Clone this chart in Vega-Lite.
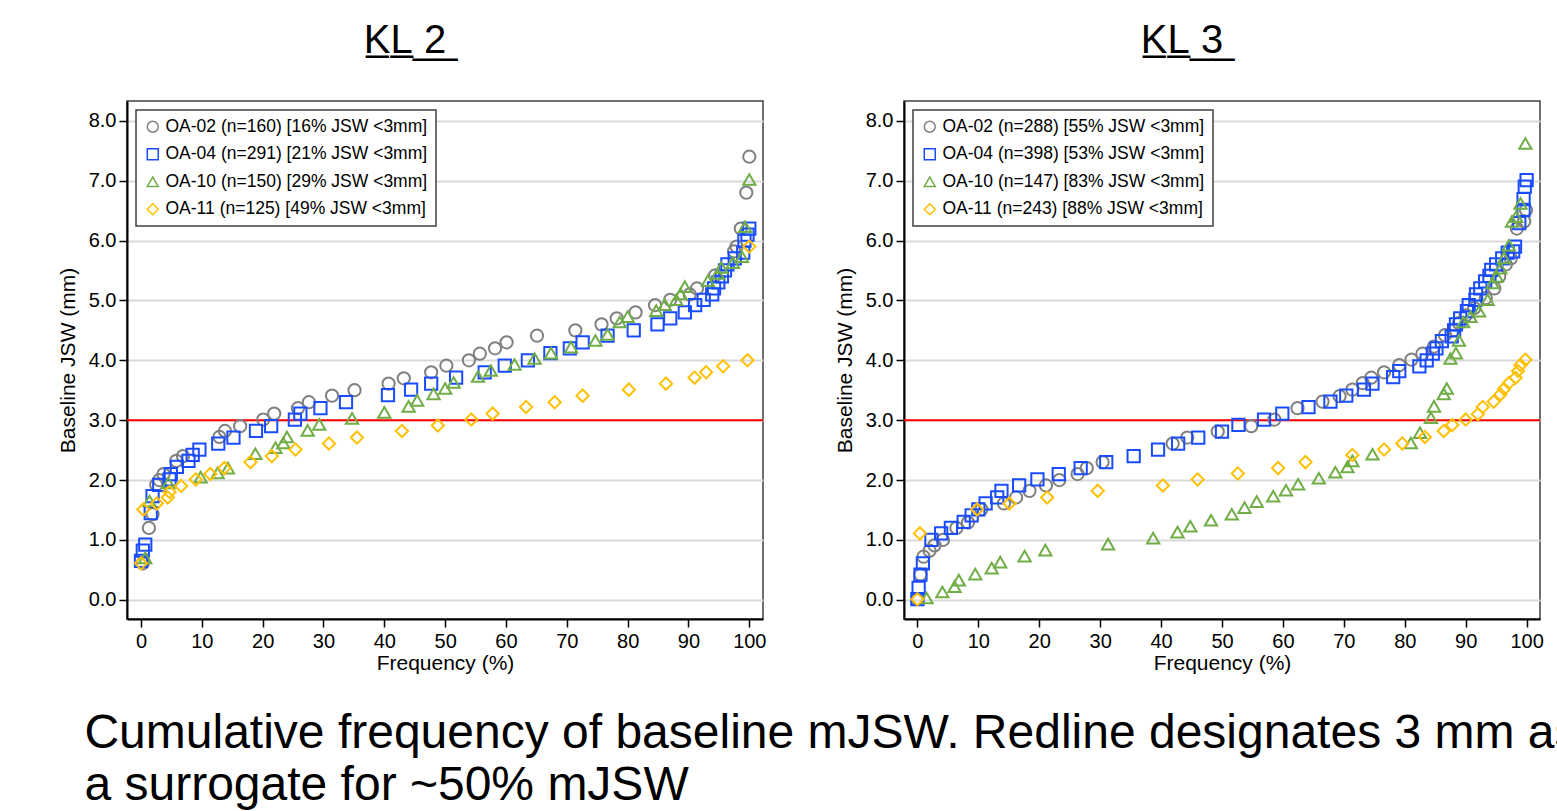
{
  "$schema": "https://vega.github.io/schema/vega-lite/v6.json",
  "background": "white",
  "padding": {"left": 56, "top": 20, "right": 5, "bottom": 5},
  "title": {
    "text": ["Cumulative frequency of baseline mJSW. Redline designates 3 mm as", "a surrogate for ~50% mJSW"],
    "orient": "bottom",
    "anchor": "start",
    "frame": "bounds",
    "font": "Liberation Sans",
    "fontSize": 48,
    "fontWeight": "normal",
    "lineHeight": 52,
    "color": "#000000",
    "offset": 36,
    "dx": 28
  },
  "datasets": {
    "kl2": [
      {"s":"OA-02","x":0.3,"y":0.61},{"s":"OA-02","x":1.3,"y":1.2},{"s":"OA-02","x":1.9,"y":1.43},{"s":"OA-02","x":2.5,"y":1.92},{"s":"OA-02","x":3.0,"y":2.0},{"s":"OA-02","x":3.7,"y":2.1},{"s":"OA-02","x":5.8,"y":2.32},{"s":"OA-02","x":6.9,"y":2.4},{"s":"OA-02","x":12.9,"y":2.72},{"s":"OA-02","x":13.8,"y":2.82},{"s":"OA-02","x":16.3,"y":2.9},{"s":"OA-02","x":20.1,"y":3.01},{"s":"OA-02","x":21.9,"y":3.11},{"s":"OA-02","x":25.8,"y":3.2},{"s":"OA-02","x":27.6,"y":3.3},{"s":"OA-02","x":31.4,"y":3.41},{"s":"OA-02","x":35.1,"y":3.5},{"s":"OA-02","x":40.7,"y":3.61},{"s":"OA-02","x":43.2,"y":3.7},{"s":"OA-02","x":47.7,"y":3.8},{"s":"OA-02","x":50.2,"y":3.91},{"s":"OA-02","x":53.9,"y":4.0},{"s":"OA-02","x":55.7,"y":4.11},{"s":"OA-02","x":58.2,"y":4.2},{"s":"OA-02","x":60.1,"y":4.3},{"s":"OA-02","x":65.1,"y":4.41},{"s":"OA-02","x":71.4,"y":4.5},{"s":"OA-02","x":75.7,"y":4.6},{"s":"OA-02","x":78.2,"y":4.7},{"s":"OA-02","x":81.3,"y":4.8},{"s":"OA-02","x":84.5,"y":4.92},{"s":"OA-02","x":87.0,"y":5.01},{"s":"OA-02","x":90.2,"y":5.1},{"s":"OA-02","x":91.4,"y":5.2},{"s":"OA-02","x":94.4,"y":5.42},{"s":"OA-02","x":97.5,"y":5.82},{"s":"OA-02","x":97.9,"y":5.9},{"s":"OA-02","x":98.6,"y":6.2},{"s":"OA-02","x":99.5,"y":6.8},{"s":"OA-02","x":100,"y":7.4},
      {"s":"OA-04","x":0,"y":0.65},{"s":"OA-04","x":0.3,"y":0.82},{"s":"OA-04","x":0.7,"y":0.92},{"s":"OA-04","x":1.6,"y":1.45},{"s":"OA-04","x":1.9,"y":1.73},{"s":"OA-04","x":3.0,"y":1.92},{"s":"OA-04","x":4.7,"y":2.01},{"s":"OA-04","x":4.9,"y":2.1},{"s":"OA-04","x":5.9,"y":2.22},{"s":"OA-04","x":7.8,"y":2.32},{"s":"OA-04","x":8.5,"y":2.42},{"s":"OA-04","x":9.6,"y":2.51},{"s":"OA-04","x":12.7,"y":2.61},{"s":"OA-04","x":15.2,"y":2.71},{"s":"OA-04","x":18.9,"y":2.82},{"s":"OA-04","x":21.4,"y":2.9},{"s":"OA-04","x":25.3,"y":3.01},{"s":"OA-04","x":26.2,"y":3.11},{"s":"OA-04","x":29.5,"y":3.2},{"s":"OA-04","x":33.7,"y":3.3},{"s":"OA-04","x":40.6,"y":3.42},{"s":"OA-04","x":44.4,"y":3.51},{"s":"OA-04","x":47.7,"y":3.61},{"s":"OA-04","x":51.8,"y":3.71},{"s":"OA-04","x":56.5,"y":3.8},{"s":"OA-04","x":59.8,"y":3.91},{"s":"OA-04","x":63.6,"y":4.0},{"s":"OA-04","x":67.3,"y":4.12},{"s":"OA-04","x":70.5,"y":4.2},{"s":"OA-04","x":72.6,"y":4.3},{"s":"OA-04","x":76.7,"y":4.41},{"s":"OA-04","x":81.0,"y":4.5},{"s":"OA-04","x":84.9,"y":4.6},{"s":"OA-04","x":87.0,"y":4.7},{"s":"OA-04","x":89.4,"y":4.8},{"s":"OA-04","x":91.1,"y":4.92},{"s":"OA-04","x":92.5,"y":5.01},{"s":"OA-04","x":93.9,"y":5.1},{"s":"OA-04","x":94.2,"y":5.2},{"s":"OA-04","x":94.9,"y":5.3},{"s":"OA-04","x":95.5,"y":5.4},{"s":"OA-04","x":96.0,"y":5.5},{"s":"OA-04","x":96.4,"y":5.6},{"s":"OA-04","x":97.6,"y":5.7},{"s":"OA-04","x":99.0,"y":5.8},{"s":"OA-04","x":99.2,"y":6.0},{"s":"OA-04","x":99.7,"y":6.1},{"s":"OA-04","x":100,"y":6.2},
      {"s":"OA-10","x":0.7,"y":0.7},{"s":"OA-10","x":1.4,"y":1.65},{"s":"OA-10","x":4.5,"y":1.95},{"s":"OA-10","x":9.8,"y":2.05},{"s":"OA-10","x":12.6,"y":2.12},{"s":"OA-10","x":14.3,"y":2.2},{"s":"OA-10","x":18.8,"y":2.44},{"s":"OA-10","x":22.1,"y":2.54},{"s":"OA-10","x":23.4,"y":2.62},{"s":"OA-10","x":24.0,"y":2.72},{"s":"OA-10","x":27.4,"y":2.83},{"s":"OA-10","x":29.3,"y":2.93},{"s":"OA-10","x":34.7,"y":3.03},{"s":"OA-10","x":40.0,"y":3.13},{"s":"OA-10","x":44.0,"y":3.23},{"s":"OA-10","x":45.4,"y":3.33},{"s":"OA-10","x":48.1,"y":3.44},{"s":"OA-10","x":50.0,"y":3.53},{"s":"OA-10","x":51.4,"y":3.63},{"s":"OA-10","x":55.4,"y":3.73},{"s":"OA-10","x":57.5,"y":3.83},{"s":"OA-10","x":61.4,"y":3.93},{"s":"OA-10","x":64.7,"y":4.03},{"s":"OA-10","x":67.4,"y":4.12},{"s":"OA-10","x":70.7,"y":4.22},{"s":"OA-10","x":74.7,"y":4.33},{"s":"OA-10","x":76.7,"y":4.43},{"s":"OA-10","x":78.7,"y":4.64},{"s":"OA-10","x":80.0,"y":4.73},{"s":"OA-10","x":84.7,"y":4.83},{"s":"OA-10","x":86.1,"y":4.93},{"s":"OA-10","x":88.0,"y":5.01},{"s":"OA-10","x":88.7,"y":5.11},{"s":"OA-10","x":89.4,"y":5.23},{"s":"OA-10","x":93.2,"y":5.33},{"s":"OA-10","x":94.8,"y":5.45},{"s":"OA-10","x":95.4,"y":5.55},{"s":"OA-10","x":97.3,"y":5.63},{"s":"OA-10","x":98.8,"y":5.73},{"s":"OA-10","x":99.3,"y":6.23},{"s":"OA-10","x":100,"y":7.02},
      {"s":"OA-11","x":0,"y":0.61},{"s":"OA-11","x":0.4,"y":1.51},{"s":"OA-11","x":2.6,"y":1.61},{"s":"OA-11","x":4.4,"y":1.71},{"s":"OA-11","x":4.7,"y":1.8},{"s":"OA-11","x":6.6,"y":1.9},{"s":"OA-11","x":9.0,"y":2.01},{"s":"OA-11","x":11.4,"y":2.1},{"s":"OA-11","x":13.7,"y":2.2},{"s":"OA-11","x":18.0,"y":2.3},{"s":"OA-11","x":21.5,"y":2.4},{"s":"OA-11","x":25.4,"y":2.51},{"s":"OA-11","x":30.9,"y":2.61},{"s":"OA-11","x":35.5,"y":2.71},{"s":"OA-11","x":42.9,"y":2.82},{"s":"OA-11","x":48.8,"y":2.91},{"s":"OA-11","x":54.3,"y":3.01},{"s":"OA-11","x":57.8,"y":3.11},{"s":"OA-11","x":63.3,"y":3.22},{"s":"OA-11","x":68.0,"y":3.3},{"s":"OA-11","x":72.6,"y":3.41},{"s":"OA-11","x":80.2,"y":3.51},{"s":"OA-11","x":86.3,"y":3.61},{"s":"OA-11","x":91.0,"y":3.71},{"s":"OA-11","x":92.9,"y":3.8},{"s":"OA-11","x":95.7,"y":3.9},{"s":"OA-11","x":99.7,"y":4.0},{"s":"OA-11","x":100,"y":5.9}
    ],
    "kl3": [
      {"s":"OA-02","x":0,"y":0.01},{"s":"OA-02","x":0.5,"y":0.42},{"s":"OA-02","x":1.0,"y":0.72},{"s":"OA-02","x":2.0,"y":0.82},{"s":"OA-02","x":2.8,"y":0.91},{"s":"OA-02","x":4.2,"y":1.0},{"s":"OA-02","x":6.4,"y":1.2},{"s":"OA-02","x":8.3,"y":1.29},{"s":"OA-02","x":10.5,"y":1.51},{"s":"OA-02","x":14.2,"y":1.61},{"s":"OA-02","x":16.2,"y":1.71},{"s":"OA-02","x":18.4,"y":1.82},{"s":"OA-02","x":21.1,"y":1.91},{"s":"OA-02","x":23.3,"y":2.0},{"s":"OA-02","x":26.3,"y":2.1},{"s":"OA-02","x":27.8,"y":2.2},{"s":"OA-02","x":30.4,"y":2.3},{"s":"OA-02","x":41.9,"y":2.61},{"s":"OA-02","x":44.3,"y":2.71},{"s":"OA-02","x":49.3,"y":2.81},{"s":"OA-02","x":54.8,"y":2.9},{"s":"OA-02","x":58.6,"y":3.01},{"s":"OA-02","x":62.4,"y":3.2},{"s":"OA-02","x":66.5,"y":3.31},{"s":"OA-02","x":69.3,"y":3.4},{"s":"OA-02","x":71.4,"y":3.51},{"s":"OA-02","x":73.1,"y":3.62},{"s":"OA-02","x":74.5,"y":3.71},{"s":"OA-02","x":76.6,"y":3.8},{"s":"OA-02","x":79.1,"y":3.92},{"s":"OA-02","x":81.1,"y":4.01},{"s":"OA-02","x":82.9,"y":4.11},{"s":"OA-02","x":84.8,"y":4.23},{"s":"OA-02","x":86.6,"y":4.42},{"s":"OA-02","x":88.1,"y":4.51},{"s":"OA-02","x":88.9,"y":4.62},{"s":"OA-02","x":90.0,"y":4.75},{"s":"OA-02","x":91.4,"y":4.87},{"s":"OA-02","x":93.3,"y":5.04},{"s":"OA-02","x":94.7,"y":5.2},{"s":"OA-02","x":95.5,"y":5.4},{"s":"OA-02","x":96.6,"y":5.6},{"s":"OA-02","x":97.4,"y":5.7},{"s":"OA-02","x":98.4,"y":6.2},{"s":"OA-02","x":99.6,"y":6.32},{"s":"OA-02","x":99.9,"y":6.51},
      {"s":"OA-04","x":0,"y":0.01},{"s":"OA-04","x":0.2,"y":0.2},{"s":"OA-04","x":0.5,"y":0.42},{"s":"OA-04","x":0.9,"y":0.61},{"s":"OA-04","x":2.3,"y":1.0},{"s":"OA-04","x":3.9,"y":1.11},{"s":"OA-04","x":5.5,"y":1.2},{"s":"OA-04","x":7.6,"y":1.3},{"s":"OA-04","x":8.9,"y":1.41},{"s":"OA-04","x":10.0,"y":1.51},{"s":"OA-04","x":11.2,"y":1.61},{"s":"OA-04","x":13.1,"y":1.71},{"s":"OA-04","x":13.8,"y":1.82},{"s":"OA-04","x":16.7,"y":1.91},{"s":"OA-04","x":19.7,"y":2.01},{"s":"OA-04","x":23.2,"y":2.1},{"s":"OA-04","x":26.8,"y":2.2},{"s":"OA-04","x":31.0,"y":2.3},{"s":"OA-04","x":35.5,"y":2.4},{"s":"OA-04","x":39.5,"y":2.51},{"s":"OA-04","x":42.8,"y":2.61},{"s":"OA-04","x":46.1,"y":2.71},{"s":"OA-04","x":50.0,"y":2.81},{"s":"OA-04","x":52.7,"y":2.92},{"s":"OA-04","x":56.9,"y":3.01},{"s":"OA-04","x":59.9,"y":3.11},{"s":"OA-04","x":64.2,"y":3.22},{"s":"OA-04","x":67.8,"y":3.31},{"s":"OA-04","x":70.4,"y":3.41},{"s":"OA-04","x":73.3,"y":3.51},{"s":"OA-04","x":74.7,"y":3.61},{"s":"OA-04","x":78.1,"y":3.72},{"s":"OA-04","x":79.1,"y":3.82},{"s":"OA-04","x":82.4,"y":3.9},{"s":"OA-04","x":83.6,"y":4.0},{"s":"OA-04","x":84.6,"y":4.11},{"s":"OA-04","x":85.2,"y":4.2},{"s":"OA-04","x":86.1,"y":4.32},{"s":"OA-04","x":87.7,"y":4.4},{"s":"OA-04","x":88.1,"y":4.5},{"s":"OA-04","x":88.4,"y":4.6},{"s":"OA-04","x":89.1,"y":4.7},{"s":"OA-04","x":90.2,"y":4.82},{"s":"OA-04","x":90.5,"y":4.92},{"s":"OA-04","x":91.6,"y":5.01},{"s":"OA-04","x":91.7,"y":5.1},{"s":"OA-04","x":92.4,"y":5.2},{"s":"OA-04","x":93.2,"y":5.32},{"s":"OA-04","x":93.9,"y":5.41},{"s":"OA-04","x":94.2,"y":5.51},{"s":"OA-04","x":95.0,"y":5.6},{"s":"OA-04","x":96.0,"y":5.7},{"s":"OA-04","x":96.9,"y":5.8},{"s":"OA-04","x":97.8,"y":5.82},{"s":"OA-04","x":98.1,"y":5.9},{"s":"OA-04","x":98.8,"y":6.29},{"s":"OA-04","x":99.5,"y":6.51},{"s":"OA-04","x":99.5,"y":6.69},{"s":"OA-04","x":99.7,"y":6.9},{"s":"OA-04","x":100,"y":7.01},
      {"s":"OA-10","x":1.5,"y":0.03},{"s":"OA-10","x":4.1,"y":0.13},{"s":"OA-10","x":6.1,"y":0.22},{"s":"OA-10","x":6.8,"y":0.33},{"s":"OA-10","x":9.5,"y":0.43},{"s":"OA-10","x":12.2,"y":0.53},{"s":"OA-10","x":13.6,"y":0.63},{"s":"OA-10","x":17.6,"y":0.73},{"s":"OA-10","x":21.0,"y":0.83},{"s":"OA-10","x":31.3,"y":0.93},{"s":"OA-10","x":38.7,"y":1.03},{"s":"OA-10","x":42.7,"y":1.13},{"s":"OA-10","x":44.8,"y":1.23},{"s":"OA-10","x":48.2,"y":1.33},{"s":"OA-10","x":51.6,"y":1.43},{"s":"OA-10","x":53.7,"y":1.54},{"s":"OA-10","x":55.7,"y":1.64},{"s":"OA-10","x":58.4,"y":1.73},{"s":"OA-10","x":60.5,"y":1.83},{"s":"OA-10","x":62.5,"y":1.93},{"s":"OA-10","x":65.9,"y":2.03},{"s":"OA-10","x":68.6,"y":2.13},{"s":"OA-10","x":70.6,"y":2.22},{"s":"OA-10","x":71.4,"y":2.32},{"s":"OA-10","x":74.7,"y":2.43},{"s":"OA-10","x":81.0,"y":2.62},{"s":"OA-10","x":82.5,"y":2.79},{"s":"OA-10","x":84.3,"y":3.04},{"s":"OA-10","x":84.8,"y":3.23},{"s":"OA-10","x":86.4,"y":3.44},{"s":"OA-10","x":86.9,"y":3.53},{"s":"OA-10","x":87.5,"y":4.03},{"s":"OA-10","x":88.4,"y":4.12},{"s":"OA-10","x":88.9,"y":4.33},{"s":"OA-10","x":89.6,"y":4.64},{"s":"OA-10","x":90.8,"y":4.73},{"s":"OA-10","x":92.2,"y":4.82},{"s":"OA-10","x":93.6,"y":5.01},{"s":"OA-10","x":94.4,"y":5.29},{"s":"OA-10","x":95.1,"y":5.4},{"s":"OA-10","x":95.7,"y":5.54},{"s":"OA-10","x":96.3,"y":5.71},{"s":"OA-10","x":97.1,"y":5.92},{"s":"OA-10","x":97.6,"y":6.32},{"s":"OA-10","x":98.3,"y":6.4},{"s":"OA-10","x":99.0,"y":6.62},{"s":"OA-10","x":99.8,"y":7.62},
      {"s":"OA-11","x":0,"y":0.01},{"s":"OA-11","x":0.4,"y":1.11},{"s":"OA-11","x":9.8,"y":1.51},{"s":"OA-11","x":15.1,"y":1.61},{"s":"OA-11","x":21.3,"y":1.71},{"s":"OA-11","x":29.6,"y":1.82},{"s":"OA-11","x":40.3,"y":1.91},{"s":"OA-11","x":46.0,"y":2.01},{"s":"OA-11","x":52.6,"y":2.11},{"s":"OA-11","x":59.2,"y":2.2},{"s":"OA-11","x":63.7,"y":2.3},{"s":"OA-11","x":71.4,"y":2.42},{"s":"OA-11","x":76.6,"y":2.51},{"s":"OA-11","x":79.6,"y":2.61},{"s":"OA-11","x":83.3,"y":2.72},{"s":"OA-11","x":86.4,"y":2.82},{"s":"OA-11","x":87.8,"y":2.92},{"s":"OA-11","x":90.0,"y":3.01},{"s":"OA-11","x":92.0,"y":3.1},{"s":"OA-11","x":92.8,"y":3.22},{"s":"OA-11","x":94.6,"y":3.31},{"s":"OA-11","x":95.7,"y":3.43},{"s":"OA-11","x":96.3,"y":3.52},{"s":"OA-11","x":97.1,"y":3.62},{"s":"OA-11","x":98.2,"y":3.71},{"s":"OA-11","x":98.6,"y":3.82},{"s":"OA-11","x":99.0,"y":3.92},{"s":"OA-11","x":99.8,"y":4.01}
    ],
    "ref": [{"y": 3}]
  },
  "hconcat": [
    {
      "width": 636,
      "height": 518,
      "title": {"text": "K̲L̲ ̲2̲", "fontSize": 40, "fontWeight": "normal", "font": "Liberation Sans", "anchor": "middle", "dx": -40, "offset": 40, "color": "#000000"},
      "layer": [
        {
          "data": {"name": "ref"},
          "mark": {"type": "rule", "color": "#ff0000", "strokeWidth": 2},
          "encoding": {"y": {"field": "y", "type": "quantitative", "scale": {"domain": [-0.32, 8.33], "nice": false, "zero": false}}}
        },
        {
          "data": {"name": "kl2"},
          "mark": {"type": "point", "filled": false, "strokeWidth": 2, "size": 150, "opacity": 1},
          "encoding": {
            "x": {"field": "x", "type": "quantitative", "scale": {"domain": [-2.3, 102.25], "nice": false, "zero": false},
                  "axis": {"title": "Frequency (%)", "values": [0,10,20,30,40,50,60,70,80,90,100]}},
            "y": {"field": "y", "type": "quantitative", "scale": {"domain": [-0.32, 8.33], "nice": false, "zero": false},
                  "axis": {"title": "Baseline JSW (mm)", "values": [0,0.5,1,1.5,2,2.5,3,3.5,4,4.5,5,5.5,6,6.5,7,7.5,8],
                           "labelExpr": "datum.value % 1 == 0 ? format(datum.value, '.1f') : ''",
                           "grid": true,
                           "gridOpacity": {"condition": {"test": "datum.value % 1 != 0", "value": 0}, "value": 1},
                           "tickSize": {"condition": {"test": "datum.value % 1 != 0", "value": 4}, "value": 8}}},
            "color": {"field": "s", "type": "nominal",
                      "scale": {"domain": ["OA-02","OA-04","OA-10","OA-11"], "range": ["#808080","#1a4cff","#70ad47","#ffc000"]},
                      "legend": {"labelExpr": "datum.label == 'OA-02' ? 'OA-02 (n=160) [16% JSW <3mm]' : datum.label == 'OA-04' ? 'OA-04 (n=291) [21% JSW <3mm]' : datum.label == 'OA-10' ? 'OA-10 (n=150) [29% JSW <3mm]' : 'OA-11 (n=125) [49% JSW <3mm]'"}},
            "shape": {"field": "s", "type": "nominal",
                      "scale": {"domain": ["OA-02","OA-04","OA-10","OA-11"], "range": ["circle","square","triangle-up","diamond"]},
                      "legend": {"labelExpr": "datum.label == 'OA-02' ? 'OA-02 (n=160) [16% JSW <3mm]' : datum.label == 'OA-04' ? 'OA-04 (n=291) [21% JSW <3mm]' : datum.label == 'OA-10' ? 'OA-10 (n=150) [29% JSW <3mm]' : 'OA-11 (n=125) [49% JSW <3mm]'"}}
          }
        }
      ]
    },
    {
      "width": 636,
      "height": 518,
      "title": {"text": "K̲L̲ ̲3̲", "fontSize": 40, "fontWeight": "normal", "font": "Liberation Sans", "anchor": "middle", "dx": -40, "offset": 40, "color": "#000000"},
      "layer": [
        {
          "data": {"name": "ref"},
          "mark": {"type": "rule", "color": "#ff0000", "strokeWidth": 2},
          "encoding": {"y": {"field": "y", "type": "quantitative", "scale": {"domain": [-0.32, 8.33], "nice": false, "zero": false}}}
        },
        {
          "data": {"name": "kl3"},
          "mark": {"type": "point", "filled": false, "strokeWidth": 2, "size": 150, "opacity": 1},
          "encoding": {
            "x": {"field": "x", "type": "quantitative", "scale": {"domain": [-2.2, 102.2], "nice": false, "zero": false},
                  "axis": {"title": "Frequency (%)", "values": [0,10,20,30,40,50,60,70,80,90,100]}},
            "y": {"field": "y", "type": "quantitative", "scale": {"domain": [-0.32, 8.33], "nice": false, "zero": false},
                  "axis": {"title": "Baseline JSW (mm)", "values": [0,0.5,1,1.5,2,2.5,3,3.5,4,4.5,5,5.5,6,6.5,7,7.5,8],
                           "labelExpr": "datum.value % 1 == 0 ? format(datum.value, '.1f') : ''",
                           "grid": true,
                           "gridOpacity": {"condition": {"test": "datum.value % 1 != 0", "value": 0}, "value": 1},
                           "tickSize": {"condition": {"test": "datum.value % 1 != 0", "value": 4}, "value": 8}}},
            "color": {"field": "s", "type": "nominal",
                      "scale": {"domain": ["OA-02","OA-04","OA-10","OA-11"], "range": ["#808080","#1a4cff","#70ad47","#ffc000"]},
                      "legend": {"labelExpr": "datum.label == 'OA-02' ? 'OA-02 (n=288) [55% JSW <3mm]' : datum.label == 'OA-04' ? 'OA-04 (n=398) [53% JSW <3mm]' : datum.label == 'OA-10' ? 'OA-10 (n=147) [83% JSW <3mm]' : 'OA-11 (n=243) [88% JSW <3mm]'"}},
            "shape": {"field": "s", "type": "nominal",
                      "scale": {"domain": ["OA-02","OA-04","OA-10","OA-11"], "range": ["circle","square","triangle-up","diamond"]},
                      "legend": {"labelExpr": "datum.label == 'OA-02' ? 'OA-02 (n=288) [55% JSW <3mm]' : datum.label == 'OA-04' ? 'OA-04 (n=398) [53% JSW <3mm]' : datum.label == 'OA-10' ? 'OA-10 (n=147) [83% JSW <3mm]' : 'OA-11 (n=243) [88% JSW <3mm]'"}}
          }
        }
      ]
    }
  ],
  "spacing": 66,
  "resolve": {
    "scale": {"color": "independent", "shape": "independent", "x": "independent", "y": "independent"},
    "legend": {"color": "independent", "shape": "independent"}
  },
  "config": {
    "font": "Liberation Sans",
    "view": {"stroke": "#404040", "strokeWidth": 1.5},
    "axis": {
      "labelFont": "Liberation Sans",
      "titleFont": "Liberation Sans",
      "labelFontSize": 20,
      "titleFontSize": 21,
      "titleFontWeight": "normal",
      "labelColor": "#000000",
      "titleColor": "#000000",
      "domainColor": "#000000",
      "domainWidth": 2,
      "tickColor": "#000000",
      "tickWidth": 1.5,
      "tickSize": 8,
      "gridColor": "#d9d9d9",
      "gridWidth": 2,
      "labelPadding": 3
    },
    "axisX": {"grid": false, "titlePadding": 1, "labelPadding": 4},
    "axisY": {"titlePadding": 10},
    "legend": {
      "orient": "top-left",
      "offset": 9,
      "title": null,
      "strokeColor": "#404040",
      "strokeWidth": 1.5,
      "fillColor": "#ffffff",
      "padding": 8,
      "labelFont": "Liberation Sans",
      "labelFontSize": 17.5,
      "labelColor": "#000000",
      "symbolSize": 120,
      "symbolStrokeWidth": 1.5,
      "rowPadding": 8.5,
      "labelLimit": 400
    }
  }
}
